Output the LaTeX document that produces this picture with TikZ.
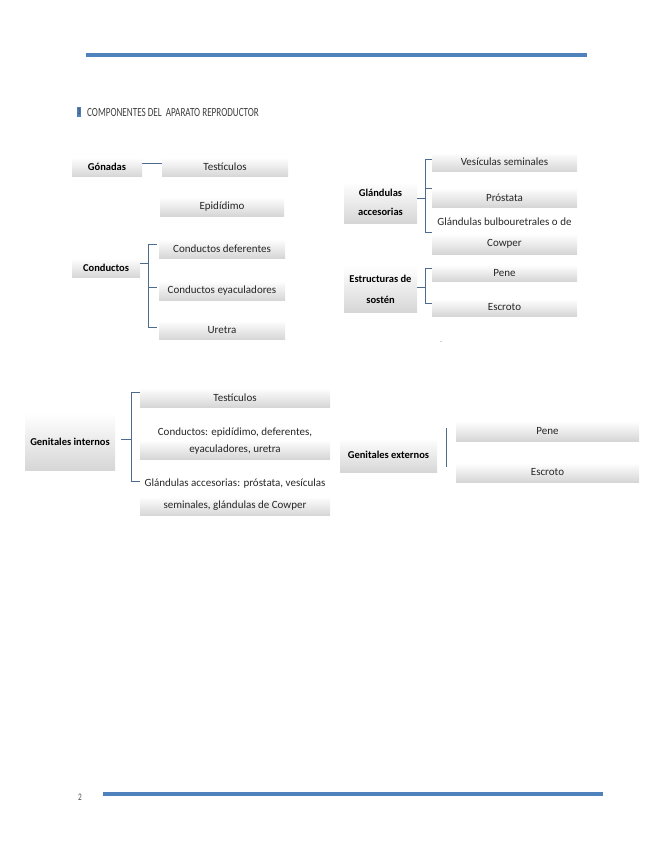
\documentclass[tikz,border=0pt]{standalone}
\usepackage{fontspec}
\setmainfont{Carlito}
\newfontfamily\headfont[FakeStretch=0.73]{Carlito}
\usetikzlibrary{positioning}
\definecolor{rulerblue}{HTML}{4F81BD}
\definecolor{linkblue}{HTML}{4E6A8C}

\begin{document}
\begin{tikzpicture}[
    x=1pt, y=-1pt,
    box/.style={rectangle, inner sep=0pt, minimum height=19pt, top color=white, bottom color=black!16, text=black!85, font=\fontsize{11}{13}\selectfont},
    plain/.style={inner sep=0pt, text=black!85, font=\fontsize{11}{13}\selectfont},
    head/.style={box, text=black, align=center, font=\bfseries\fontsize{10.5}{19}\selectfont},
    link/.style={draw=linkblue, line width=0.8pt},
    rule/.style={draw=rulerblue, line width=3.5pt}
]
\useasboundingbox (0,0) rectangle (655,848);

% Page rules
\coordinate (topL) at (86,55);
\coordinate (topR) at (587,55);
\draw[rule] (topL) -- (topR);
\coordinate (botL) at (103,794);
\coordinate (botR) at (603,794);
\draw[rule] (botL) -- (botR);
\node[inner sep=0pt, text=black!70, font=\headfont\fontsize{10}{10}\selectfont] (pagenum) at (80,797) {2};

% Title
\node[fill=rulerblue, inner sep=0pt, minimum width=4.5pt, minimum height=10pt, text=black!70, font=\headfont\fontsize{9}{9}\selectfont] (secnum) at (79,112) {3};
\node[anchor=west, inner sep=0pt, text=black!75, font=\headfont\fontsize{12.5}{12.5}\selectfont] (title) at (87,112) {COMPONENTES DEL \ APARATO REPRODUCTOR};

% Gonadas y conductos
\node[head, minimum width=70pt] (gonadas) at (107,167) {Gónadas};
\node[box, minimum width=126pt] (testic) at (225,167) {Testículos};
\node[box, minimum width=124pt] (epid) at (222,206.5) {Epidídimo};
\node[head, minimum width=68pt] (conductos) at (106,268) {Conductos};
\node[box, minimum width=126pt] (cdef) at (222,248.5) {Conductos deferentes};
\node[box, minimum width=126pt] (ceya) at (222,290.5) {Conductos eyaculadores};
\node[box, minimum width=126pt] (uretra) at (222,330) {Uretra};

\draw[link] ([yshift=4pt]gonadas.east) -- ([yshift=4pt]testic.west);
\draw[link] ([xshift=-2pt,yshift=4pt]cdef.west) -- ++(-8,0) |- ([xshift=-2pt,yshift=3pt]uretra.west);
\draw[link] ([xshift=-2pt,yshift=3.5pt]ceya.west) -- ++(-8,0);
\draw[link] ([yshift=5pt]conductos.east) -- ++(9,0);

% Glandulas accesorias
\node[head, minimum width=73pt, minimum height=41pt] (glandacc) at (380.5,202.5) {Glándulas\\accesorias};
\node[box, minimum width=145pt] (vesic) at (504.5,162) {Vesículas seminales};
\node[box, minimum width=145pt] (prost) at (504.5,197.5) {Próstata};
\node[plain] (bulbotxt) at (504.5,222) {Glándulas bulbouretrales o de};
\node[box, minimum width=145pt, minimum height=20pt] (bulbo) at (504.5,244) {Cowper};

\draw[link] ([yshift=3pt]vesic.west) -- ++(-6,0) |- ([yshift=12pt]bulbo.west);
\draw[link] ([yshift=9.5pt]prost.west) -- ++(-6,0);
\draw[link] ([yshift=4.5pt]glandacc.east) -- ++(9,0);

% Estructuras de sosten
\node[head, minimum width=73pt, minimum height=46pt, font=\bfseries\fontsize{10.5}{21}\selectfont] (estruct) at (380.5,289) {Estructuras de\\sostén};
\node[box, minimum width=145pt, minimum height=16pt] (pene) at (504.5,273) {Pene};
\node[box, minimum width=145pt, minimum height=17pt] (escroto) at (504.5,307.5) {Escroto};

\draw[link] ([yshift=5pt]pene.west) -- ++(-6,0) |- ([yshift=4.5pt]escroto.west);
\draw[link] ([yshift=2pt]estruct.east) -- ++(9,0);
\node[inner sep=0pt, text=black!60, font=\fontsize{6}{6}\selectfont] (stray) at (441,343) {-};

% Genitales internos
\node[head, minimum width=90pt, minimum height=57pt] (ginternos) at (70,441.5) {Genitales internos};
\node[box, minimum width=190pt] (gitestic) at (235,397.5) {Testículos};
\node[plain] (gicondtxt) at (235,433) {Conductos: epidídimo, deferentes,};
\node[box, minimum width=190pt] (gicond) at (235,449.5) {eyaculadores, uretra};
\node[plain] (giglandtxt) at (235,484) {Glándulas accesorias: próstata, vesículas};
\node[box, minimum width=190pt] (gigland) at (235,506) {seminales, glándulas de Cowper};

\draw[link] ([yshift=5.5pt]gitestic.west) -- ++(-8,0) |- ([yshift=25pt]gigland.west);
\draw[link] ([xshift=6pt,yshift=2.5pt]ginternos.east) -- ++(11,0);

% Genitales externos
\node[head, minimum width=97pt, minimum height=34pt] (gexternos) at (388.5,455) {Genitales externos};
\node[box, minimum width=183pt, minimum height=20pt] (gepene) at (547.5,431) {Pene};
\node[box, minimum width=183pt] (geescroto) at (547.5,472.5) {Escroto};

\draw[link] ([xshift=-9pt,yshift=3pt]gepene.west) -- ([xshift=-9pt,yshift=5.5pt]geescroto.west);

\end{tikzpicture}
\end{document}
